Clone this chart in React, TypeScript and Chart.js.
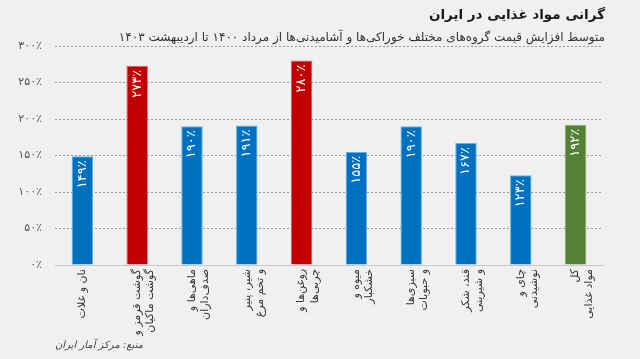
import React, { useEffect, useRef } from "react";
import { Chart, registerables } from "chart.js";

Chart.register(...registerables);

const titleText = "گرانی مواد غذایی در ایران";
const subtitleText = "متوسط افزایش قیمت گروه‌های مختلف خوراکی‌ها و آشامیدنی‌ها از مرداد ۱۴۰۰ تا اردیبهشت ۱۴۰۳";
const sourceText = "منبع: مرکز آمار ایران";

const categories: string[][] = [
  ["نان و غلات"],
  ["گوشت قرمز و", "گوشت ماکیان"],
  ["ماهی‌ها و", "صدف‌داران"],
  ["شیر، پنیر", "و تخم مرغ"],
  ["روغن‌ها و", "چربی‌ها"],
  ["میوه و", "خشکبار"],
  ["سبزی‌ها", "و حبوبات"],
  ["قند، شکر", "و شیرینی"],
  ["چای و", "نوشیدنی"],
  ["کل", "مواد غذایی"],
];

const increases: number[] = [149, 273, 190, 191, 280, 155, 190, 167, 123, 192];

const yTicks: number[] = [0, 50, 100, 150, 200, 250, 300];

const BLUE = "#0070C0";
const RED = "#C00000";
const GREEN = "#548235";
const barColors = [BLUE, RED, BLUE, BLUE, RED, BLUE, BLUE, BLUE, BLUE, GREEN];
const barBorders = barColors.map((c) => (c === BLUE ? "#5ab4ea" : c === RED ? "#e06060" : "#7fa860"));

const FONT = "'DejaVu Sans', 'Noto Sans', sans-serif";

const toFa = (n: number | string) => String(n).replace(/\d/g, (d) => "۰۱۲۳۴۵۶۷۸۹"[Number(d)]);
const pct = (n: number) => toFa(n) + "٪";

const decorPlugin = {
  id: "decor",
  beforeDraw(chart: any) {
    const ctx = chart.ctx;
    ctx.save();
    ctx.fillStyle = "#f0f0f0";
    ctx.fillRect(0, 0, chart.width, chart.height);
    ctx.restore();
  },
  afterDraw(chart: any) {
    const ctx = chart.ctx;
    ctx.save();
    ctx.direction = "rtl";
    ctx.textAlign = "right";
    ctx.textBaseline = "middle";
    ctx.fillStyle = "#1a1a1a";
    ctx.font = `bold 13.5px ${FONT}`;
    ctx.fillText(titleText, 605, 15);
    ctx.fillStyle = "#333333";
    ctx.font = `12px ${FONT}`;
    ctx.fillText(subtitleText, 605, 38);
    ctx.restore();

    ctx.save();
    ctx.fillStyle = "#444444";
    ctx.font = `italic 10px ${FONT}`;
    ctx.textAlign = "right";
    ctx.textBaseline = "middle";
    ctx.direction = "rtl";
    ctx.fillText(sourceText, 143, 345);
    ctx.restore();

    // bar value labels
    const meta = chart.getDatasetMeta(0);
    ctx.save();
    ctx.fillStyle = "#ffffff";
    ctx.font = `13px ${FONT}`;
    ctx.textAlign = "right";
    ctx.textBaseline = "middle";
    meta.data.forEach((bar: any, i: number) => {
      ctx.save();
      ctx.translate(bar.x, bar.y + 4);
      ctx.rotate(-Math.PI / 2);
      ctx.fillText(pct(increases[i]), 0, 0);
      ctx.restore();
    });
    ctx.restore();
  },
};

export default function App() {
  const ref = useRef<HTMLCanvasElement | null>(null);
  useEffect(() => {
    if (!ref.current) return;
    const chart = new Chart(ref.current, {
      type: "bar",
      data: {
        labels: categories,
        datasets: [
          {
            data: increases,
            backgroundColor: barColors,
            borderColor: barBorders,
            borderWidth: 1,
            categoryPercentage: 0.8,
            barPercentage: 0.49,
          },
        ],
      },
      options: {
        animation: false,
        responsive: false,
        maintainAspectRatio: false,
        layout: { padding: { top: 46, right: 37, left: 0, bottom: 0 } },
        plugins: {
          legend: { display: false },
          tooltip: { enabled: false },
          title: { display: false },
        },
        scales: {
          x: {
            grid: { display: false, drawTicks: false },
            border: { display: true, color: "#c8c8c8", width: 1 },
            ticks: {
              color: "#333333",
              font: { family: FONT, size: 11 },
              minRotation: 90,
              maxRotation: 90,
              autoSkip: false,
              padding: 4,
            },
            afterFit: (scale: any) => {
              scale.height = 94;
            },
          },
          y: {
            min: 0,
            max: 300,
            afterBuildTicks: (scale: any) => {
              scale.ticks = yTicks.map((v) => ({ value: v }));
            },
            grid: {
              drawTicks: false,
              color: (c: any) => (c.tick && c.tick.value === 0 ? "rgba(0,0,0,0)" : "#9a9a9a"),
              lineWidth: 1,
            },
            border: { display: false, dash: [2, 2] },
            ticks: {
              color: "#555555",
              font: { family: FONT, size: 11 },
              padding: 13,
              callback: (v: any) => pct(v),
            },
            afterFit: (scale: any) => {
              scale.width = 55;
            },
          },
        },
      },
      plugins: [decorPlugin],
    });
    return () => chart.destroy();
  }, []);
  return (
    <div style={{ position: "absolute", left: 0, top: 0, width: 640, height: 359 }}>
      <canvas ref={ref} width={640} height={359} style={{ width: 640, height: 359, display: "block" }} />
    </div>
  );
}
